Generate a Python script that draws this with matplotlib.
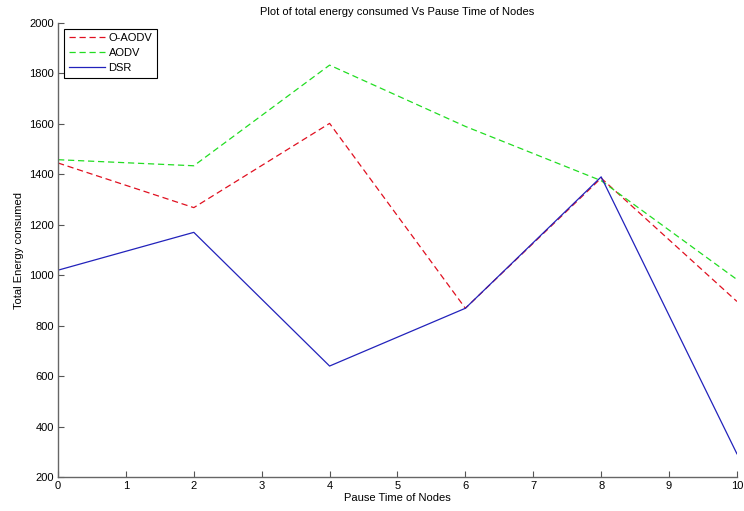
import matplotlib
matplotlib.use('Agg')
import matplotlib.pyplot as plt

plt.rcParams['font.family'] = ['Liberation Sans', 'DejaVu Sans']

pause_time = [0, 2, 4, 6, 8, 10]
o_aodv = [1445, 1268, 1602, 869, 1385, 896]
aodv = [1458, 1434, 1833, 1590, 1375, 983]
dsr = [1020, 1170, 640, 869, 1390, 292]

x_ticks = list(range(0, 11))
y_ticks = list(range(200, 2001, 200))

fig = plt.figure(figsize=(7.44, 5.11), dpi=100)
ax = fig.add_axes([0.078, 0.0665, 0.9125, 0.8885])

ax.plot(pause_time, o_aodv, '--', color='#e01020', lw=0.9, dashes=(5, 3), label='O-AODV')
ax.plot(pause_time, aodv, '--', color='#22dd22', lw=0.9, dashes=(5, 3), label='AODV')
ax.plot(pause_time, dsr, '-', color='#2222bb', lw=0.9, label='DSR')

ax.set_xlim(0, 10)
ax.set_ylim(200, 2000)
ax.set_xticks(x_ticks)
ax.set_yticks(y_ticks)
ax.tick_params(direction='in', length=4, width=0.8, labelsize=8, color='#555555', pad=3)
for side in ['top', 'right']:
    ax.spines[side].set_visible(False)
for side in ['left', 'bottom']:
    ax.spines[side].set_color('#666666')
    ax.spines[side].set_linewidth(1.0)

ax.set_title('Plot of total energy consumed Vs Pause Time of Nodes', fontsize=8, pad=6)
ax.set_xlabel('Pause Time of Nodes', fontsize=8, labelpad=1)
ax.set_ylabel('Total Energy consumed', fontsize=8, labelpad=4)

leg = ax.legend(loc='upper left', bbox_to_anchor=(0.009, 0.987), borderaxespad=0,
                fontsize=8, fancybox=False, framealpha=1, edgecolor='black',
                handlelength=3.3, handletextpad=0.3, labelspacing=0.45, borderpad=0.4)
leg.get_frame().set_linewidth(0.8)

fig.savefig('out.png', dpi=100)
